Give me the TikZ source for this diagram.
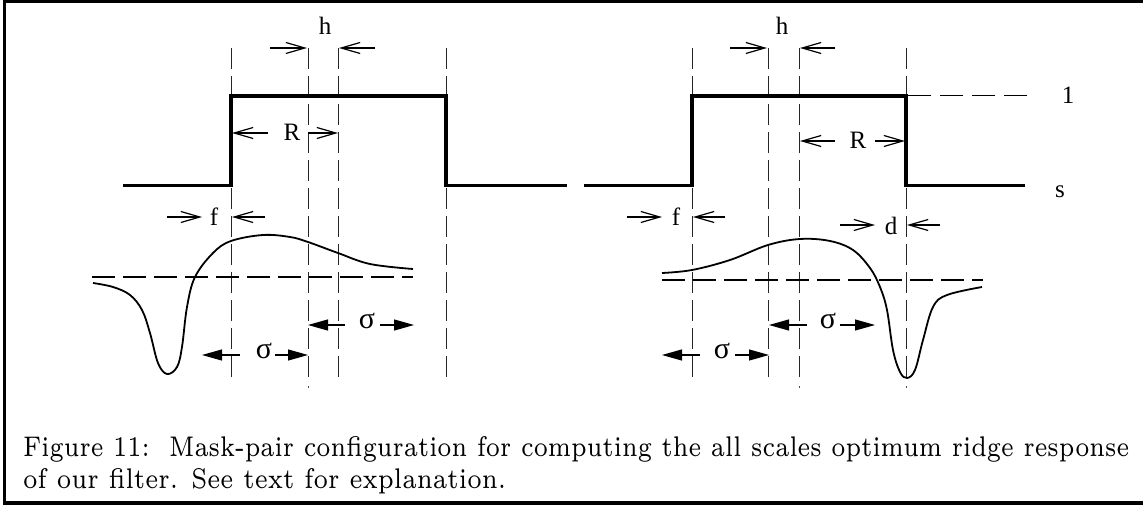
\documentclass[tikz,border=0pt]{standalone}
\usepackage{fontspec}
\usetikzlibrary{arrows.meta}
\newfontfamily\labfont{Liberation Serif}
\tikzset{
  openarr/.style={-{Straight Barb[length=19pt,width=11pt,line width=1.2pt]}, line width=1.2pt},
  fillarr/.style={-{Triangle[length=20pt,width=11pt]}, line width=1.2pt},
  vdash/.style={line width=1pt, dash pattern=on 21pt off 7pt, black!85},
  hdash/.style={line width=1pt, dash pattern=on 23pt off 9pt},
  thickdash/.style={line width=2pt, dash pattern=on 23pt off 8pt},
  stepline/.style={line width=3.4pt, line join=miter},
  curveline/.style={line width=1.8pt},
  lbl/.style={font=\labfont\fontsize{25}{30}\selectfont, inner sep=0, anchor=base},
  siglbl/.style={font=\labfont\fontsize{30}{36}\selectfont, inner sep=0, anchor=base},
  frameline/.style={line width=3.2pt},
  caplbl/.style={inner sep=0, anchor=base west},
}
\begin{document}
\begin{tikzpicture}[x=1pt,y=-1pt]
\useasboundingbox (0,0) rectangle (1143,508);
% frame
\draw[frameline] (1150,1.4) -- (4.5,1.4) -- (4.5,503) -- (1150,503);

% ---------- left panel ----------
\foreach \xx in {231,308,338,446} \draw[vdash] (\xx,48) -- (\xx,378);
\draw[line width=1pt,black!70] (308,386) -- (308,388);
\draw[stepline] (123,185.5) -- (231,185.5) -- (231,96) -- (446,96) -- (446,185.5) -- (567,185.5);
\draw[thickdash] (92,277) -- (413,277);
\draw[curveline] plot[smooth, tension=0.6] coordinates {(93,283) (113,287) (130,295) (142,310) (150,333) (158,363) (167,374) (177,367) (182,347) (187,307) (195,277) (213,253) (231,241) (263,235) (290,237) (308,242) (338,253) (370,264) (413,269)};

\node[lbl] (hL) at (325,35) {h};
\draw[openarr] (270,48) -- (307,48);
\draw[openarr] (375,48) -- (339,48);
\node[lbl] (RL) at (292,141) {R};
\draw[openarr] (268,133) -- (232,133);
\draw[openarr] (308,133) -- (338,133);
\node[lbl] (fL) at (214,225) {f};
\draw[openarr] (167,217) -- (202,217);
\draw[openarr] (265,217) -- (232,217);
\node[siglbl] (sL1) at (264,358) {σ};
\draw[fillarr] (240,355) -- (202,355);
\draw[fillarr] (275,355) -- (308,355);
\node[siglbl] (sL2) at (367,328) {σ};
\draw[fillarr] (345,325) -- (308,325);
\draw[fillarr] (380,325) -- (414,325);

% ---------- right panel ----------
\foreach \xx in {692,768,799,906} \draw[vdash] (\xx,48) -- (\xx,378);
\draw[line width=1pt,black!70] (799,386) -- (799,388);
\draw[line width=1pt,black!70] (906,386) -- (906,388);
\draw[stepline] (584,185.5) -- (692,185.5) -- (692,96) -- (906,96) -- (906,185.5) -- (1025,185.5);
\draw[hdash] (908,96) -- (1032,96);
\draw[thickdash] (662,280) -- (983,280);
\draw[curveline] plot[smooth, tension=0.6] coordinates {(662,273) (692,270) (730,260) (768,245) (800,239) (830,241) (853,250) (870,268) (880,287) (887,310) (893,350) (900,372) (907,378) (915,370) (923,340) (933,307) (947,295) (982,287)};

\node[lbl] (hR) at (782,35) {h};
\draw[openarr] (730,48) -- (767,48);
\draw[openarr] (835,48) -- (800,48);
\node[lbl] (RR) at (858,149) {R};
\draw[openarr] (835,141) -- (800,141);
\draw[openarr] (875,141) -- (905,141);
\node[lbl] (one) at (1068,104) {1};
\node[lbl] (sLab) at (1060,197) {s};
\node[lbl] (fR) at (676,225) {f};
\draw[openarr] (627,217) -- (662,217);
\draw[openarr] (725,217) -- (693,217);
\node[lbl] (dR) at (891,234) {d};
\draw[openarr] (840,225) -- (875,225);
\draw[openarr] (940,225) -- (907,225);
\node[siglbl] (sR1) at (722,358) {σ};
\draw[fillarr] (700,355) -- (662,355);
\draw[fillarr] (735,355) -- (769,355);
\node[siglbl] (sR2) at (828,328) {σ};
\draw[fillarr] (807,325) -- (769,325);
\draw[fillarr] (840,325) -- (875,325);

% ---------- caption ----------
\node[caplbl] (cap1) at (23,456)
  {\resizebox{1106pt}{20pt}{\fontsize{6}{7}\selectfont Figure 11:\ \ Mask-pair configuration for computing the all scales optimum ridge response}};
\node[caplbl] (cap2) at (23,488)
  {\resizebox{483pt}{20pt}{\fontsize{6}{7}\selectfont of our filter. See text for explanation.}};
\end{tikzpicture}
\end{document}
